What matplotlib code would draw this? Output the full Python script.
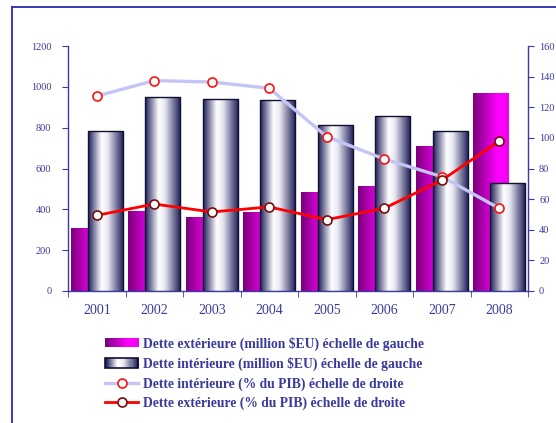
import numpy as np
import matplotlib.pyplot as plt
from matplotlib.colors import LinearSegmentedColormap
from matplotlib.lines import Line2D
from matplotlib.patches import Rectangle
from matplotlib.legend_handler import HandlerBase

plt.rcParams['font.family'] = ['Liberation Serif', 'DejaVu Serif']

# data
years = ['2001', '2002', '2003', '2004', '2005', '2006', '2007', '2008']
ext_musd = [308, 392, 362, 387, 485, 514, 710, 970]     # Dette exterieure (million $EU)
int_musd = [782, 950, 940, 935, 815, 857, 782, 527]     # Dette interieure (million $EU)
int_pib = [127.3, 137.4, 136.5, 132.4, 100.8, 86.2, 74.7, 54.0]  # % du PIB
ext_pib = [49.4, 56.8, 51.6, 54.9, 46.6, 54.0, 72.3, 98.0]       # % du PIB

txt_col = '#3a3a9c'
axis_col = '#3c3ca8'

cm_ext = LinearSegmentedColormap.from_list('ext', [(0, '#7a007a'), (0.7, '#ff00ff'), (1, '#f000f0')])
cm_int = LinearSegmentedColormap.from_list('int', [(0, '#1c1c58'), (0.38, '#ffffff'), (0.55, '#e8e8f2'),
                                                    (1, '#1a1a55')])
grad = np.linspace(0, 1, 256).reshape(1, -1)

fig = plt.figure(figsize=(5.56, 4.23), dpi=100)
ax = fig.add_axes([68/556, 1-291/423, 460/556, 245/423])
ax2 = ax.twinx()

x = np.arange(len(years))
off = 0.148
w = 0.61

b1 = ax.bar(x - off, ext_musd, w, color='none', linewidth=0, zorder=2)
b2 = ax.bar(x + off, int_musd, w, facecolor='none', edgecolor='#101030', linewidth=1.0, zorder=4)

# gradient fills clipped to each bar
for bars, cm, z in [(b1, cm_ext, 2.5), (b2, cm_int, 3.5)]:
    for p in bars:
        if z > 3:
            bg = Rectangle((p.get_x(), 0), p.get_width(), p.get_height(), transform=ax.transData,
                           facecolor='white', zorder=z - 0.1)
            ax.add_patch(bg)
        im = ax.imshow(grad, extent=[p.get_x(), p.get_x() + p.get_width(), 0, p.get_height()],
                       aspect='auto', cmap=cm, zorder=z, interpolation='bilinear')
        im.set_clip_path(p)

ax.set_xlim(-0.5, len(years) - 0.5)
ax.set_ylim(0, 1200)
ax.set_yticks(np.arange(0, 1201, 200))

ax2.plot(x, int_pib, color='#c4c4f6', linewidth=2.4, marker='o', markersize=6.5,
         markerfacecolor='white', markeredgecolor='#ff1010', markeredgewidth=1.2, zorder=5)
ax2.plot(x, ext_pib, color='#ff0000', linewidth=2.0, marker='o', markersize=6.5,
         markerfacecolor='white', markeredgecolor='#7a0a0a', markeredgewidth=1.2, zorder=6)
ax2.set_ylim(0, 160)
ax2.set_yticks(np.arange(0, 161, 20))

for a in (ax, ax2):
    a.spines['top'].set_visible(False)
    for s in ('left', 'right', 'bottom'):
        a.spines[s].set_color(axis_col)
        a.spines[s].set_linewidth(1.0)
ax.spines['right'].set_visible(False)
ax2.spines['left'].set_visible(False)
ax2.spines['bottom'].set_visible(False)

ax.set_xticks(x)
ax.set_xticklabels(years, fontsize=10, color=txt_col)
ax.tick_params(axis='x', length=0, pad=9)
ax.set_xticks(np.arange(-0.5, len(years), 1), minor=True)
ax.tick_params(axis='x', which='minor', length=4, direction='out', color=axis_col)
ax.tick_params(axis='y', length=4, direction='out', color=axis_col, labelcolor=txt_col, labelsize=7.5, pad=8)
ax2.tick_params(axis='y', length=4, direction='out', color=axis_col, labelcolor=txt_col, labelsize=7.5, pad=4)


class GradHandler(HandlerBase):
    def __init__(self, cmap, edge):
        super().__init__()
        self.cmap = cmap
        self.edge = edge

    def create_artists(self, legend, orig, xd, yd, width, height, fontsize, trans):
        arts = []
        n = 30
        for i in range(n):
            r = Rectangle((xd + width*i/n, yd), width/n + 0.3, height, facecolor=self.cmap((i + 0.5)/n),
                          edgecolor='none', transform=trans)
            arts.append(r)
        if self.edge:
            arts.append(Rectangle((xd, yd), width, height, facecolor='none', edgecolor='#101030',
                                  linewidth=1.2, transform=trans))
        return arts


h1 = Rectangle((0, 0), 1, 1)
h2 = Rectangle((0, 0), 1, 1)
h3 = Line2D([], [], color='#c4c4f6', linewidth=2.4, marker='o', markersize=6.5,
            markerfacecolor='white', markeredgecolor='#ff1010', markeredgewidth=1.2)
h4 = Line2D([], [], color='#ff0000', linewidth=2.0, marker='o', markersize=6.5,
            markerfacecolor='white', markeredgecolor='#7a0a0a', markeredgewidth=1.2)
labels = ['Dette extérieure (million $EU) échelle de gauche',
          'Dette intérieure (million $EU) échelle de gauche',
          'Dette intérieure (% du PIB) échelle de droite',
          'Dette extérieure (% du PIB) échelle de droite']
leg = fig.legend([h1, h2, h3, h4], labels, loc='upper left', bbox_to_anchor=(100/556, 1-331/423),
                 frameon=False, handlelength=2.4, handleheight=0.7, handletextpad=0.35,
                 labelspacing=0.45, borderaxespad=0,
                 handler_map={h1: GradHandler(cm_ext, False), h2: GradHandler(cm_int, True)},
                 prop={'weight': 'bold', 'size': 9.8})
for t in leg.get_texts():
    t.set_color(txt_col)

# outer frame
fig.add_artist(Line2D([12/556, 12/556], [0, 1-7/423], transform=fig.transFigure, color='#2a2ab0', lw=1.3))
fig.add_artist(Line2D([12/556, 1], [1-7/423, 1-7/423], transform=fig.transFigure, color='#2a2ab0', lw=1.3))

fig.savefig('out.png', dpi=100)
